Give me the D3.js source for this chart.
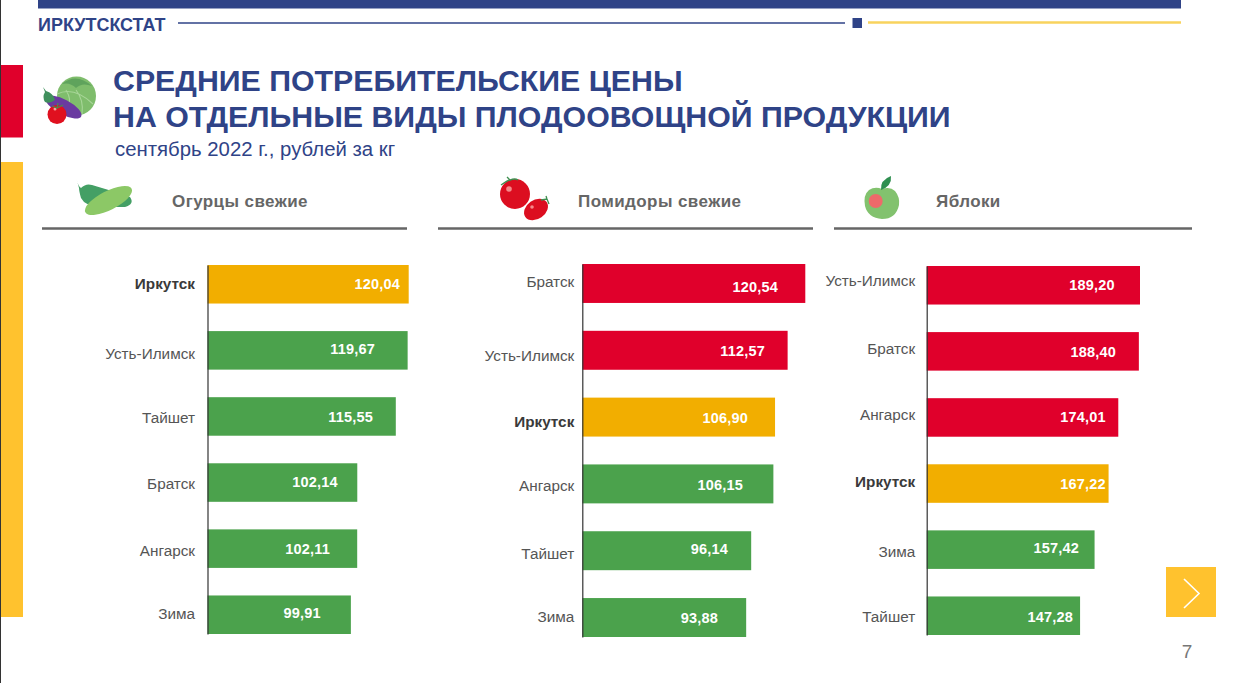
<!DOCTYPE html>
<html>
<head>
<meta charset="utf-8">
<script src="https://cdn.jsdelivr.net/npm/d3@7"></script>
<style>
  html, body { margin: 0; padding: 0; background: #fff; }
  svg { display: block; font-family: "Liberation Sans", Arial, sans-serif; }
</style>
</head>
<body>
<svg id="chart" width="1260" height="683"></svg>
<script>
// DATA
const cucumberCities = ["Иркутск", "Усть-Илимск", "Тайшет", "Братск", "Ангарск", "Зима"];
const cucumberPrices = [120.04, 119.67, 115.55, 102.14, 102.11, 99.91];
const tomatoCities = ["Братск", "Усть-Илимск", "Иркутск", "Ангарск", "Тайшет", "Зима"];
const tomatoPrices = [120.54, 112.57, 106.90, 106.15, 96.14, 93.88];
const appleCities = ["Усть-Илимск", "Братск", "Ангарск", "Иркутск", "Зима", "Тайшет"];
const applePrices = [189.20, 188.40, 174.01, 167.22, 157.42, 147.28];
// how many top bars are red in each panel (rest green, Irkutsk always amber)
const cucumberRedCount = 0;
const tomatoRedCount = 2;
const appleRedCount = 3;

const titleLines = ["СРЕДНИЕ ПОТРЕБИТЕЛЬСКИЕ ЦЕНЫ", "НА ОТДЕЛЬНЫЕ ВИДЫ ПЛОДООВОЩНОЙ ПРОДУКЦИИ"];

// COLORS
const NAVY = "#2f4387";
const RED = "#e0002b";
const GREEN = "#4ba24c";
const AMBER = "#f2ae00";
const YELLOW = "#ffc22e";

// PANEL LAYOUT (separate from the values above)
const panels = [
  {
    name: "Огурцы свежие", nameX: 172, rule: [42, 407],
    cities: cucumberCities, prices: cucumberPrices, redCount: cucumberRedCount,
    domain: [50, 120.04], xRange: [207.5, 408.7], yRange: [265, 634], labelPad: 12.5,
    valueEnd: [400, 375, 373, 337.7, 330, 320.7],
    valueDy: [0, -1, 0, -1, 0.5, -2],
    labelDy: [0, 4, 1.5, 1.5, 2, -1]
  },
  {
    name: "Помидоры свежие", nameX: 578, rule: [438, 813],
    cities: tomatoCities, prices: tomatoPrices, redCount: tomatoRedCount,
    domain: [20, 120.54], xRange: [582.3, 805.3], yRange: [264, 637], labelPad: 8,
    valueEnd: [778, 765, 748, 743, 728, 718],
    valueDy: [3, 1, 1, 1.5, -2, 0],
    labelDy: [-1, 6, 5, 2, 3, 0]
  },
  {
    name: "Яблоки", nameX: 936, rule: [834, 1192],
    cities: appleCities, prices: applePrices, redCount: appleRedCount,
    domain: [40, 189.20], xRange: [926.7, 1140], yRange: [266, 635], labelPad: 11.5,
    valueEnd: [1114.7, 1116, 1105.7, 1105.7, 1079, 1073],
    valueDy: [0, 0.5, -1, 0, -1.5, 1],
    labelDy: [-4, -2, -2, -1, 2.5, 1]
  }
];

const svg = d3.select("#chart");
const fmt = d3.format(".2f");

// PAGE FRAME
svg.append("rect").attr("width", 1260).attr("height", 683).attr("fill", "#fff");
svg.append("rect").attr("x", 0).attr("y", 0).attr("width", 1).attr("height", 683).attr("fill", "#333");
svg.append("rect").attr("x", 38).attr("y", 0).attr("width", 1143).attr("height", 8.5).attr("fill", NAVY);
svg.append("text").attr("x", 38).attr("y", 31).attr("font-size", 17.5).attr("font-weight", 700)
  .attr("fill", NAVY).attr("textLength", 127.5).attr("lengthAdjust", "spacingAndGlyphs").text("ИРКУТСКСТАТ");
svg.append("line").attr("x1", 178).attr("x2", 845).attr("y1", 23).attr("y2", 23)
  .attr("stroke", NAVY).attr("stroke-width", 1.5);
svg.append("rect").attr("x", 852.5).attr("y", 18).attr("width", 9.5).attr("height", 10).attr("fill", NAVY);
svg.append("line").attr("x1", 868).attr("x2", 1181).attr("y1", 22.5).attr("y2", 22.5)
  .attr("stroke", "#f8d35e").attr("stroke-width", 2.5);
svg.append("rect").attr("x", 1).attr("y", 65).attr("width", 22).attr("height", 72.5).attr("fill", RED);
svg.append("rect").attr("x", 1).attr("y", 162).attr("width", 22).attr("height", 455).attr("fill", YELLOW);

// TITLE
svg.selectAll(".title").data(titleLines).join("text")
  .attr("class", "title")
  .attr("x", 113)
  .attr("y", (d, i) => 91 + i * 36)
  .attr("font-size", 30.3)
  .attr("font-weight", 700)
  .attr("fill", NAVY)
  .text((d) => d);
svg.append("text").attr("x", 115).attr("y", 156).attr("font-size", 20.35).attr("fill", NAVY)
  .text("сентябрь 2022 г., рублей за кг");

// ICONS
function drawIcons() {
  const g = svg.append("g");
  // cabbage
  g.append("circle").attr("cx", 76.5).attr("cy", 96).attr("r", 19.5).attr("fill", "#7fbd6c");
  g.append("path").attr("d", "M62 84 Q76 72 92 86 Q82 82 76 88 Q70 82 62 84 Z").attr("fill", "#5fa35c");
  g.append("path").attr("d", "M57 94 Q74 86 93 104 M76 90 Q84 100 82 114 M66 90 Q72 100 68 106")
    .attr("fill", "none").attr("stroke", "#a8d698").attr("stroke-width", 1.1);
  // eggplant
  g.append("ellipse").attr("cx", 63.5).attr("cy", 107).attr("rx", 20).attr("ry", 7.5)
    .attr("transform", "rotate(28 63.5 107)").attr("fill", "#6a3aa0");
  g.append("path").attr("d", "M43 87 L45 92 Q42 97 45 102 Q50 104 55 100 Q53 93 46 91 Z").attr("fill", "#3f8f5c");
  // tomato
  g.append("circle").attr("cx", 57).attr("cy", 114.5).attr("r", 9.5).attr("fill", "#e0101f");
  g.append("circle").attr("cx", 55).attr("cy", 109).attr("r", 1.5).attr("fill", "#f5a0a0");
  g.append("path").attr("d", "M52 106 L57 108 L63 105 M57 108 L58 103").attr("fill", "none")
    .attr("stroke", "#4a8a50").attr("stroke-width", 1.2);
  // cucumbers
  g.append("path").attr("d", "M76.5 179 Q78 186 81 188 Q86 183 92 185 L112 191 L130 197 Q135 204 125 207 L100 207 Q85 206 81 198 Q79 191 79 188 Z")
    .attr("fill", "#449f65");
  g.append("ellipse").attr("cx", 108.5).attr("cy", 200.5).attr("rx", 26).attr("ry", 9.5)
    .attr("transform", "rotate(-27 108.5 200.5)").attr("fill", "#8cc866");
  // tomatoes
  g.append("circle").attr("cx", 515).attr("cy", 194).attr("r", 15).attr("fill", "#dc0e20");
  g.append("circle").attr("cx", 509).attr("cy", 189).attr("r", 2.8).attr("fill", "#f58a8a");
  g.append("path").attr("d", "M501 185 Q508 180 510 180 L507 177 M510 180 Q515 178 518 180")
    .attr("fill", "none").attr("stroke", "#3f8f50").attr("stroke-width", 1.3);
  g.append("ellipse").attr("cx", 536).attr("cy", 209.5).attr("rx", 13).attr("ry", 9.5)
    .attr("transform", "rotate(-35 536 209.5)").attr("fill", "#dc0e20");
  g.append("circle").attr("cx", 532).attr("cy", 207).attr("r", 1.8).attr("fill", "#f58a8a");
  g.append("path").attr("d", "M541 200 L547 199 L549 204 M547 199 L546 196")
    .attr("fill", "none").attr("stroke", "#3f8f50").attr("stroke-width", 1.3);
  // apple
  g.append("path").attr("d", "M882 189 Q890 186 895 191 Q900 197 899 205 Q896 219 882 219 Q868 218 865 206 Q863 195 869 190 Q875 186 882 189 Z")
    .attr("fill", "#82c26e");
  g.append("circle").attr("cx", 875.7).attr("cy", 201).attr("r", 7).attr("fill", "#ee6a6a");
  g.append("path").attr("d", "M881 190 Q880 180 891 176 Q892 186 881 190 Z").attr("fill", "#2f8f50");
}
drawIcons();

// PANELS
panels.forEach((p) => {
  const g = svg.append("g");
  const x = d3.scaleLinear().domain(p.domain).range(p.xRange);
  const y = d3.scaleBand().domain(p.cities).range(p.yRange).paddingInner(0.417).paddingOuter(0);

  g.append("text").attr("x", p.nameX).attr("y", 207).attr("font-size", 17).attr("font-weight", 700)
    .attr("fill", "#666").attr("letter-spacing", 0.42).text(p.name);
  g.append("line").attr("x1", p.rule[0]).attr("x2", p.rule[1]).attr("y1", 228.5).attr("y2", 228.5)
    .attr("stroke", "#666").attr("stroke-width", 2.5);

  p.cities.forEach((city, i) => {
    const barColor = city === "Иркутск" ? AMBER : i < p.redCount ? RED : GREEN;
    g.append("rect")
      .attr("x", p.xRange[0])
      .attr("y", y(city))
      .attr("width", x(p.prices[i]) - p.xRange[0])
      .attr("height", y.bandwidth())
      .attr("fill", barColor);
    g.append("text")
      .attr("x", p.valueEnd[i])
      .attr("y", y(city) + y.bandwidth() / 2 + p.valueDy[i])
      .attr("dy", "0.35em")
      .attr("text-anchor", "end")
      .attr("font-size", 14.5)
      .attr("font-weight", 700)
      .attr("letter-spacing", 0.2)
      .attr("fill", "#fff")
      .text(fmt(p.prices[i]).replace(".", ","));
  });

  const axis = d3.axisLeft(y).tickSize(0).tickPadding(p.labelPad);
  const axisG = g.append("g").attr("transform", `translate(${p.xRange[0]},0)`).call(axis);
  axisG.select(".domain").attr("stroke", "#333").attr("stroke-width", 1.2);
  axisG.selectAll(".tick text")
    .attr("font-family", "Liberation Sans, Arial, sans-serif")
    .attr("font-size", 15.3)
    .attr("fill", (d) => (d === "Иркутск" ? "#3a3a3a" : "#555"))
    .attr("font-weight", (d) => (d === "Иркутск" ? 700 : 400))
    .attr("transform", (d, i) => `translate(0,${p.labelDy[i]})`);
});

// NEXT BUTTON + PAGE NUMBER
svg.append("rect").attr("x", 1166).attr("y", 567).attr("width", 50).attr("height", 50).attr("fill", YELLOW);
svg.append("path").attr("d", "M1184 579 L1199 593.5 L1184 608").attr("fill", "none")
  .attr("stroke", "#fff").attr("stroke-width", 1.6);
svg.append("text").attr("x", 1187).attr("y", 658).attr("text-anchor", "middle").attr("font-size", 19)
  .attr("fill", "#777").text("7");
</script>
</body>
</html>
